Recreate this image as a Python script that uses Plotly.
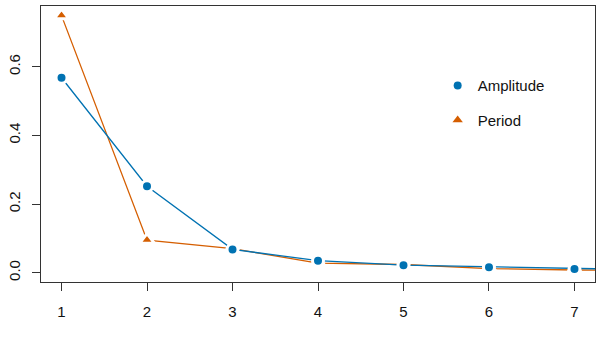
import plotly.graph_objects as go

# component index and the two series
components = [1, 2, 3, 4, 5, 6, 7, 8]
amplitude = [0.568, 0.252, 0.068, 0.035, 0.022, 0.016, 0.011, 0.008]
period = [0.749, 0.095, 0.070, 0.028, 0.024, 0.012, 0.008, 0.006]
x_ticks = [1, 2, 3, 4, 5, 6, 7]
y_ticks = [0.0, 0.2, 0.4, 0.6]

blue = "#0072B2"
orange = "#D55E00"
axis_col = "#333333"
font = dict(family="Liberation Sans, Arial, sans-serif", size=15, color="#111111")
tick_font = dict(family="Liberation Sans, Arial, sans-serif", size=15, color="#111111")

fig = go.Figure()

# type="b" look: lines with a white halo round each point
fig.add_trace(go.Scatter(
    x=components, y=period, mode="lines+markers", showlegend=False,
    line=dict(color=orange, width=1.3),
    marker=dict(symbol="triangle-up", size=13, color=orange,
                line=dict(color="white", width=3)),
))
fig.add_trace(go.Scatter(
    x=components, y=amplitude, mode="lines+markers", showlegend=False,
    line=dict(color=blue, width=1.3),
    marker=dict(symbol="circle", size=11, color=blue,
                line=dict(color="white", width=3)),
))

# legend entries: points only
fig.add_trace(go.Scatter(
    x=[None], y=[None], mode="markers", name="Amplitude", legendgroup="a",
    marker=dict(symbol="circle", size=8, color=blue),
))
fig.add_trace(go.Scatter(
    x=[None], y=[None], mode="markers", name="Period", legendgroup="p",
    marker=dict(symbol="triangle-up", size=9, color=orange),
))

fig.update_layout(
    width=598, height=340,
    margin=dict(l=41, r=3, t=6, b=58),
    paper_bgcolor="white", plot_bgcolor="white",
    font=font,
    legend=dict(x=0.716, y=0.771, xanchor="left", yanchor="top",
                bgcolor="rgba(0,0,0,0)", traceorder="grouped",
                tracegroupgap=12, font=font),
)
fig.update_xaxes(
    range=[0.76, 7.24], tickvals=x_ticks, showgrid=False, zeroline=False,
    showline=True, mirror=True, linecolor=axis_col, linewidth=1.3,
    ticks="outside", ticklen=8, tickwidth=1.2, tickcolor=axis_col,
    ticklabelstandoff=8, automargin=False, tickfont=tick_font,
)
fig.update_yaxes(
    range=[-0.027, 0.777], tickvals=y_ticks, tickformat=".1f",
    showgrid=False, zeroline=False,
    showline=True, mirror=True, linecolor=axis_col, linewidth=1.3,
    ticks="outside", ticklen=8, tickwidth=1.2, tickcolor=axis_col,
    tickangle=-90, ticklabelstandoff=6, automargin=False, tickfont=tick_font,
)

# drop the browser's default body margin so the figure sits at 0,0
fig.write_html("out.html", config={"displayModeBar": False},
               post_script="document.body.style.margin='0px';")
